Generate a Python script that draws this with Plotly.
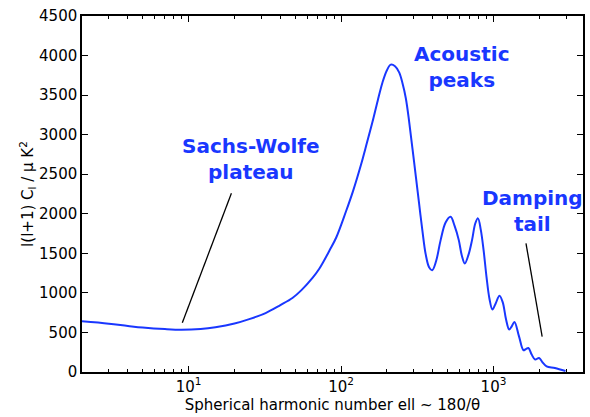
import numpy as np
import plotly.graph_objects as go

# multipole ell and l(l+1)C_l [muK^2]
ell = [2, 3, 4, 5, 7, 9, 12, 15, 20, 25, 32, 40, 48, 55, 65, 72, 84, 93, 108,
       120, 135, 148, 161, 174, 187, 200, 212, 226, 241, 253, 266, 280, 294,
       310, 325, 342, 359, 378, 396, 420, 450, 485, 523, 555, 592, 620, 648,
       685, 723, 760, 791, 825, 861, 900, 940, 983, 1030, 1095, 1150, 1210,
       1268, 1320, 1373, 1470, 1572, 1630, 1694, 1780, 1875, 1990, 2100, 2230,
       2528, 2965]
dl = [640, 610, 582, 562, 542, 534, 543, 565, 612, 668, 745, 845, 935, 1035,
      1190, 1305, 1535, 1700, 2035, 2290, 2616, 2900, 3165, 3430, 3660, 3815,
      3885, 3865, 3785, 3650, 3461, 3160, 2828, 2460, 2130, 1780, 1490, 1325,
      1287, 1400, 1667, 1890, 1962, 1850, 1667, 1470, 1372, 1480, 1667, 1880,
      1942, 1800, 1540, 1200, 930, 790, 860, 965, 880, 660, 537, 580, 633,
      450, 275, 290, 304, 220, 157, 177, 120, 72, 51, 13]

# annotation pointer lines (data coordinates)
sw_line_x = [9.1, 19.1]
sw_line_y = [623, 2259]
dt_line_x = [1633, 2085]
dt_line_y = [1627, 446]

labels = ["Sachs-Wolfe<br>plateau", "Acoustic<br>peaks", "Damping<br>tail"]
label_x = [25.5, 620, 1800]
label_y = [2690, 3850, 2030]

yticks = list(range(0, 4501, 500))
xmajor = [10, 100, 1000]
xmajor_text = ["10<sup>1</sup>", "10<sup>2</sup>", "10<sup>3</sup>"]
xminor = [m * 10 ** d for d in range(0, 4) for m in range(2, 10) if 2 <= m * 10 ** d <= 4000]

blue = "rgb(25,55,255)"

fig = go.Figure()
fig.add_trace(go.Scatter(x=ell, y=dl, mode="lines",
                         line=dict(color=blue, width=2, shape="spline", smoothing=1.0),
                         hoverinfo="skip"))
fig.add_trace(go.Scatter(x=sw_line_x, y=sw_line_y, mode="lines",
                         line=dict(color="black", width=1.3), hoverinfo="skip"))
fig.add_trace(go.Scatter(x=dt_line_x, y=dt_line_y, mode="lines",
                         line=dict(color="black", width=1.3), hoverinfo="skip"))

for t, x, y in zip(labels, label_x, label_y):
    fig.add_annotation(x=np.log10(x), y=y, xref="x", yref="y", text=t,
                       showarrow=False, align="center",
                       font=dict(family="DejaVu Sans", size=20, color=blue, weight="bold"))

axfont = dict(family="DejaVu Sans", size=15, color="black")
fig.update_xaxes(type="log", range=[np.log10(2), 3.587],
                 tickvals=xmajor, ticktext=xmajor_text,
                 ticks="inside", ticklen=6, tickwidth=1, tickcolor="black",
                 minor=dict(tickvals=xminor, ticks="inside", ticklen=3, tickcolor="black"),
                 mirror="allticks", showline=True, linecolor="black", linewidth=1.5,
                 showgrid=False, zeroline=False, tickfont=axfont,
                 title=dict(text="Spherical harmonic number ell ~ 180/θ", font=axfont, standoff=0))
fig.update_yaxes(range=[0, 4500], tickvals=yticks,
                 ticks="inside", ticklen=6, tickwidth=1, tickcolor="black",
                 mirror="allticks", showline=True, linecolor="black", linewidth=1.5,
                 showgrid=False, zeroline=False, tickfont=axfont,
                 title=dict(text="l(l+1) C<sub>l</sub> / μ K<sup>2</sup>", font=axfont, standoff=2))
fig.update_layout(width=590, height=417, margin=dict(l=82, r=5, t=16, b=45),
                  plot_bgcolor="white", paper_bgcolor="white", showlegend=False)
fig.write_html("out.html")
